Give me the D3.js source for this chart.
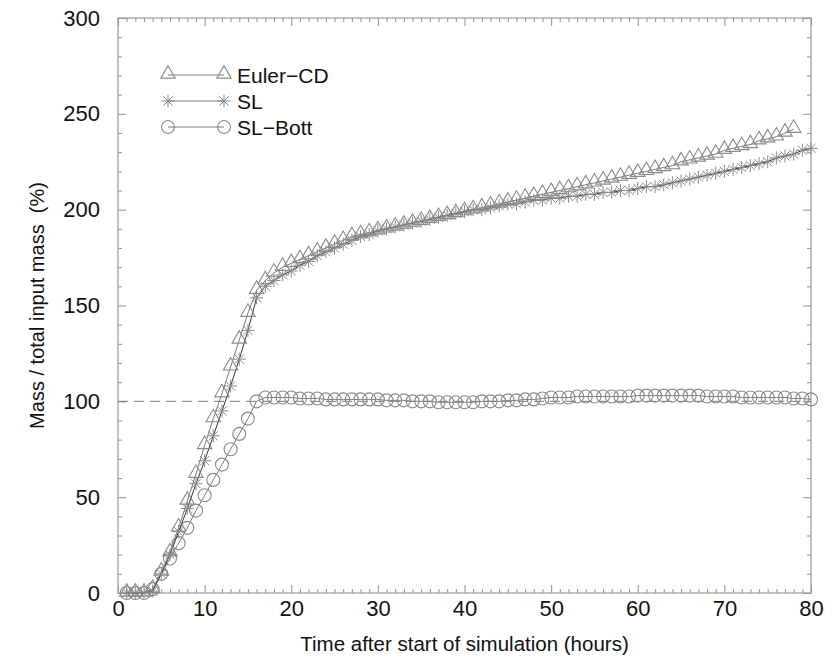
<!DOCTYPE html>
<html>
<head>
<meta charset="utf-8">
<script src="https://cdn.jsdelivr.net/npm/d3@7"></script>
<style>
  body { margin: 0; background: #fff; }
  text { font-family: "Liberation Sans", Arial, sans-serif; fill: #111; }
</style>
</head>
<body>
<div id="chart"></div>
<script>
var width = 832;
var height = 659;

// hours after start (one output per hour)
var hours = d3.range(1, 81);

// mass / total input mass (%)
var eulerCD = [0, 0, 0, 2, 11, 21, 34, 48, 62, 77,
  91, 104, 118, 132, 146, 158, 163, 167, 170, 172,
  174, 176, 178, 180, 182, 184, 186, 187, 188, 189,
  190, 191, 192, 193, 194, 195, 196, 197, 198, 199,
  200, 201, 202, 203, 204, 205, 206, 207, 208, 209,
  210, 211, 212, 213, 214, 215, 216, 217, 218, 219,
  220, 221, 222, 223, 225, 226, 227, 228, 229, 231,
  232, 233, 234, 236, 237, 238, 240, 242];

var sl = [0, 0, 0, 1, 10, 20, 32, 44, 57, 69,
  82, 95, 108, 122, 137, 154, 160, 163, 166, 168,
  171, 173, 176, 178, 180, 182, 184, 186, 187, 189,
  190, 191, 192, 193, 194, 195, 196, 197, 198, 199,
  200, 200, 201, 202, 203, 203, 204, 205, 205, 206,
  206, 207, 207, 208, 208, 209, 209, 210, 210, 211,
  212, 212, 213, 214, 215, 216, 217, 218, 219, 220,
  221, 222, 223, 224, 225, 227, 228, 229, 231, 232];

var slBott = [0, 0, 0, 2, 10, 18, 26, 34, 43, 51,
  59, 67, 75, 83, 91, 100, 102, 102, 102, 102,
  101.5, 101.5, 101.5, 101, 101, 101, 101, 101, 101, 101,
  100.5, 100.5, 100.5, 100, 100, 100, 99.5, 99.5, 99.5, 99.5,
  99.5, 100, 100, 100, 100.5, 100.5, 101, 101, 101.5, 102,
  102, 102, 102.5, 102.5, 102.5, 102.5, 102.5, 102.5, 102.5, 103,
  103, 103, 103, 103, 103, 103, 103, 102.5, 102.5, 102.5,
  102.5, 102, 102, 102, 102, 102, 102, 101.5, 101.5, 101];

var seriesNames = ["Euler\u2212CD", "SL", "SL\u2212Bott"];
var seriesShapes = ["triangle", "star", "circle"];
var xTicks = [0, 10, 20, 30, 40, 50, 60, 70, 80];
var yTicks = [0, 50, 100, 150, 200, 250, 300];

var pLeft = 118, pRight = 811, pTop = 18, pBottom = 593;

var svg = d3.select("#chart")
  .append("svg")
    .attr("width", width)
    .attr("height", height);

var x = d3.scaleLinear().domain([0, 80]).range([pLeft, pRight]);
var y = d3.scaleLinear().domain([0, 300]).range([pBottom, pTop]);

var axisColor = "#9a9a9a";
var lineColor = "#7a7a7a";
var markColor = "#8a8a8a";

// frame
svg.append("rect")
  .attr("x", pLeft).attr("y", pTop)
  .attr("width", pRight - pLeft).attr("height", pBottom - pTop)
  .attr("fill", "none").attr("stroke", axisColor).attr("stroke-width", 1.2);

// ticks: minor every 1 h / 10 %, major every 10 h / 50 %
function tickAxis(axisFn, scale, vals, size, pos) {
  var g = svg.append("g")
    .attr("transform", pos)
    .call(axisFn(scale).tickValues(vals).tickSize(size).tickFormat(""));
  g.select(".domain").remove();
  g.selectAll("line").attr("stroke", axisColor).attr("stroke-width", 1.1);
  return g;
}
var xMinor = d3.range(0, 81, 1).filter(function(d) { return d % 10 != 0; });
var yMinor = d3.range(0, 301, 10).filter(function(d) { return d % 50 != 0; });

tickAxis(d3.axisTop, x, xMinor, 4, "translate(0," + pBottom + ")");
tickAxis(d3.axisTop, x, xTicks, 8, "translate(0," + pBottom + ")");
tickAxis(d3.axisBottom, x, xMinor, 4, "translate(0," + pTop + ")");
tickAxis(d3.axisBottom, x, xTicks, 8, "translate(0," + pTop + ")");
tickAxis(d3.axisRight, y, yMinor, 4, "translate(" + pLeft + ",0)");
tickAxis(d3.axisRight, y, yTicks, 8, "translate(" + pLeft + ",0)");
tickAxis(d3.axisLeft, y, yMinor, 4, "translate(" + pRight + ",0)");
tickAxis(d3.axisLeft, y, yTicks, 8, "translate(" + pRight + ",0)");

// tick labels
var xl = svg.append("g")
  .attr("transform", "translate(0," + pBottom + ")")
  .call(d3.axisBottom(x).tickValues(xTicks).tickSize(0).tickPadding(7));
xl.select(".domain").remove();
xl.selectAll("text").style("font-size", "22px").attr("fill", "#111")
  .style("font-family", "Liberation Sans, Arial, sans-serif");

var yl = svg.append("g")
  .attr("transform", "translate(" + pLeft + ",0)")
  .call(d3.axisLeft(y).tickValues(yTicks).tickSize(0).tickPadding(18));
yl.select(".domain").remove();
yl.selectAll("text").style("font-size", "22px").attr("fill", "#111")
  .style("font-family", "Liberation Sans, Arial, sans-serif");

// axis titles
svg.append("text")
  .attr("x", (pLeft + pRight) / 2).attr("y", 651)
  .attr("text-anchor", "middle")
  .style("font-size", "20.5px")
  .text("Time after start of simulation (hours)");

svg.append("text")
  .attr("transform", "translate(44," + (pTop + pBottom) / 2 + ") rotate(-90)")
  .attr("text-anchor", "middle")
  .style("font-size", "20px")
  .style("white-space", "pre")
  .text("Mass / total input mass  (%)");

// 100 % reference line
svg.append("line")
  .attr("x1", x(0)).attr("x2", x(80))
  .attr("y1", y(100)).attr("y2", y(100))
  .attr("stroke", lineColor).attr("stroke-width", 1)
  .attr("stroke-dasharray", "10,6");

// markers
function drawMarker(g, shape, cx, cy) {
  if (shape == "triangle") {
    g.append("path")
      .attr("d", d3.symbol().type(d3.symbolTriangle).size(90))
      .attr("transform", "translate(" + cx + "," + (cy - 1) + ")")
      .attr("fill", "none").attr("stroke", markColor).attr("stroke-width", 1.1);
  } else if (shape == "circle") {
    g.append("circle")
      .attr("cx", cx).attr("cy", cy).attr("r", 6.5)
      .attr("fill", "none").attr("stroke", markColor).attr("stroke-width", 1.1);
  } else {
    var r = 6.5;
    for (var k = 0; k < 4; k++) {
      var a = k * Math.PI / 4;
      g.append("line")
        .attr("x1", cx - r * Math.cos(a)).attr("y1", cy - r * Math.sin(a))
        .attr("x2", cx + r * Math.cos(a)).attr("y2", cy + r * Math.sin(a))
        .attr("stroke", markColor).attr("stroke-width", 1);
    }
  }
}

var allSeries = [eulerCD, sl, slBott];
var line = d3.line()
  .x(function(d, i) { return x(hours[i]); })
  .y(function(d) { return y(d); });

// draw Bott first, Euler last (on top)
[2, 1, 0].forEach(function(s) {
  var vals = allSeries[s];
  var g = svg.append("g");
  g.append("path")
    .datum(vals)
    .attr("d", line)
    .attr("fill", "none")
    .attr("stroke", s == 1 ? "#333" : lineColor)
    .attr("stroke-width", 1);
  vals.forEach(function(v, i) {
    drawMarker(g, seriesShapes[s], x(hours[i]), y(v));
  });
});

// legend
var legY = [75, 101, 127];
seriesNames.forEach(function(name, s) {
  var g = svg.append("g");
  g.append("line")
    .attr("x1", 168).attr("x2", 224)
    .attr("y1", legY[s]).attr("y2", legY[s])
    .attr("stroke", lineColor).attr("stroke-width", 1);
  drawMarker(g, seriesShapes[s], 168, legY[s]);
  drawMarker(g, seriesShapes[s], 224, legY[s]);
  g.append("text")
    .attr("x", 237).attr("y", legY[s])
    .attr("dy", "0.36em")
    .style("font-size", "21px")
    .text(name);
});
</script>
</body>
</html>
